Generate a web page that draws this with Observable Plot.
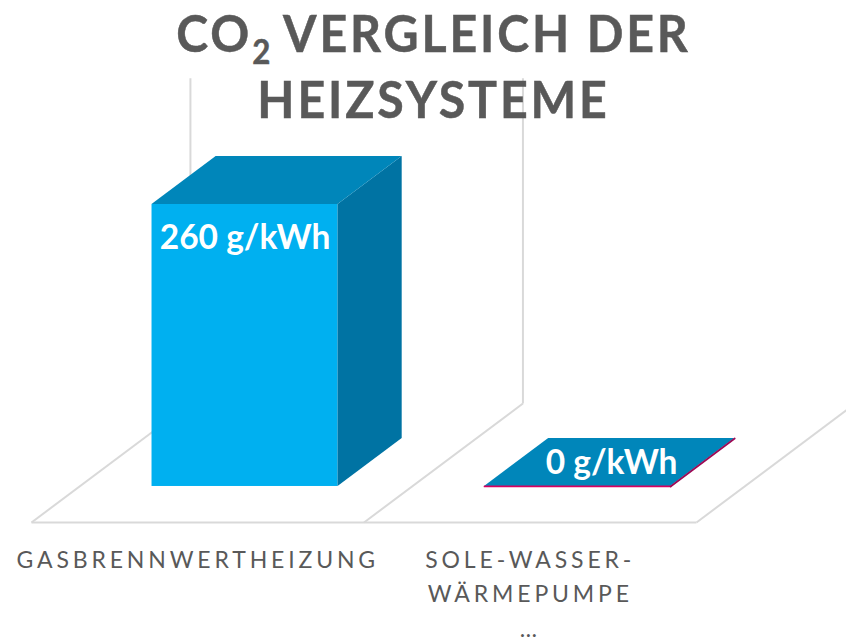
<!DOCTYPE html>
<html lang="de">
<head>
<meta charset="utf-8">
<script src="https://cdn.jsdelivr.net/npm/d3@7"></script>
<script src="https://cdn.jsdelivr.net/npm/@observablehq/plot@0.6"></script>
<style>
html,body{margin:0;padding:0;background:#fff}
#chart{position:relative;width:846px;height:639px;overflow:hidden}
#chart svg{position:absolute;left:0;top:0;display:block}
h1{position:absolute;z-index:2;left:0;top:-1px;width:867px;margin:0;text-align:center;
 font:700 52.5px/66px Lato,sans-serif;letter-spacing:3.1px;color:#595959;-webkit-text-stroke:0.5px #595959;
 transform:scaleX(.92);transform-origin:433.5px 0}
h1 sub{font-size:34px;line-height:0;vertical-align:-12px;letter-spacing:0}
.cat text{letter-spacing:3.85px}
</style>
</head>
<body>
<div id="chart">
<h1 id="title">CO<sub>2</sub> VERGLEICH DER<br>HEIZSYSTEME</h1>
</div>
<script>
const categories = ["GASBRENNWERTHEIZUNG", "SOLE-WASSER-\nWÄRMEPUMPE\n…"];
const values = [260, 0];
const units = "g/kWh";
const wallTop = 300;

// pseudo-3D projection in data units: slot position, value, depth (0 front .. 1 back of the floor)
const depthX = 0.478, depthV = 109.7, barDepth0 = 0.3025, barDepth1 = 0.706;
const barX0 = 0.3625, barX1 = 0.922;
const px = (slot, along, d) => slot + along + d * depthX;
const pv = (v, d) => v + (d - barDepth0) * depthV;

const slots = d3.range(categories.length + 1);
const bars = categories.map((c, i) => ({c, i, v: values[i]}));

const gridRows = [
  ...slots.flatMap((s) => [
    {k: "f" + s, x: px(s, 0, 0), y: pv(0, 0)},
    {k: "f" + s, x: px(s, 0, 1), y: pv(0, 1)}
  ]),
  ...slots.slice(0, -1).flatMap((s) => [
    {k: "w" + s, x: px(s, 0, 1), y: pv(0, 1)},
    {k: "w" + s, x: px(s, 0, 1), y: pv(wallTop, 1)}
  ]),
  {k: "b", x: px(0, 0, 0), y: pv(0, 0)},
  {k: "b", x: px(categories.length, 0, 0), y: pv(0, 0)}
];

const sideRows = bars.flatMap((b) => [barDepth0, barDepth1].map((d) => ({
  i: b.i, x: px(b.i, barX1 - barDepth0 * depthX, d), y1: pv(0, d), y2: pv(b.v, d)
})));
const topRows = bars.flatMap((b) => [barDepth0, barDepth1].map((d) => ({
  i: b.i, y: pv(b.v, d),
  x1: px(b.i, barX0 - barDepth0 * depthX, d), x2: px(b.i, barX1 - barDepth0 * depthX, d)
})));
const flat = bars.filter((b) => b.v === 0);
const flatFront = flat.flatMap((b) => [barX0, barX1].map((a) => ({i: b.i, x: b.i + a, y: 0})));
const flatSide = flat.flatMap((b) => [barDepth0, barDepth1].map((d) => ({
  i: b.i, x: px(b.i, barX1 - barDepth0 * depthX, d), y: pv(0, d)
})));

const labelRows = bars.map((b) => {
  const tall = b.v > 0;
  const d = tall ? barDepth0 : (barDepth0 + barDepth1) / 2;
  return {
    text: `${b.v} ${units}`,
    x: px(b.i, (barX0 + barX1) / 2 - barDepth0 * depthX, d) + (tall ? 0 : 0.006),
    y: tall ? b.v - 31 : pv(b.v, d) - 1
  };
});

const plot = Plot.plot({
  width: 846, height: 639,
  margin: 0,
  x: {domain: [-0.0932, 2.4511], range: [0, 846], axis: null},
  y: {domain: [448.1, -141.1], range: [0, 639], axis: null},
  marks: [
    Plot.line(gridRows, {x: "x", y: "y", z: "k", stroke: "#d9d9d9", strokeWidth: 2, strokeLinecap: "butt", strokeLinejoin: "miter"}),
    Plot.rect(bars, {x1: (b) => b.i + barX0, x2: (b) => b.i + barX1, y1: 0, y2: "v", fill: "#00b0f0", inset: 0}),
    Plot.areaY(sideRows, {x: "x", y1: "y1", y2: "y2", z: "i", fill: "#0073a3"}),
    Plot.areaX(topRows, {y: "y", x1: "x1", x2: "x2", z: "i", fill: "#0086ba"}),
    Plot.line(flatFront, {x: "x", y: "y", z: "i", stroke: "#d6005f", strokeWidth: 1.8}),
    Plot.line(flatSide, {x: "x", y: "y", z: "i", stroke: "#9c0a55", strokeWidth: 1.8}),
    Plot.text(labelRows, {x: "x", y: "y", text: "text", fill: "#fff", fontFamily: "Lato, sans-serif", fontWeight: 700, fontSize: 33.5}),
    Plot.text(bars, {
      x: (b) => b.i + 0.5, y: pv(0, 0), dy: 21, text: "c", lineAnchor: "top",
      lineHeight: 1.5, fill: "#595959", fontFamily: "Lato, sans-serif", fontSize: 23, className: "cat"
    })
  ]
});
document.getElementById("chart").appendChild(plot);
</script>
</body>
</html>
